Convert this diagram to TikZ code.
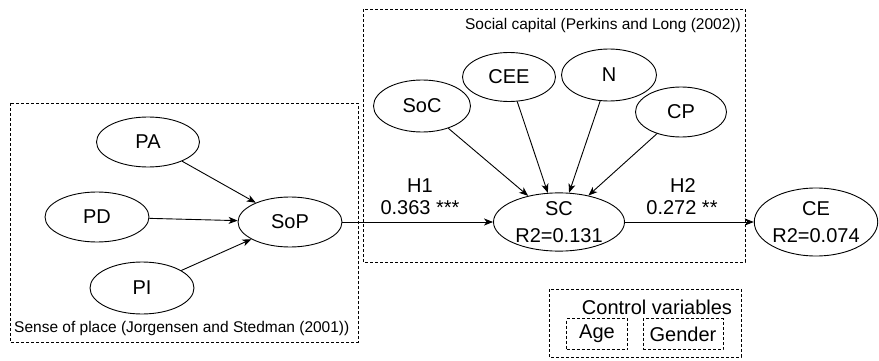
\documentclass[tikz,border=0pt]{standalone}
\usepackage{fontspec}
\setmainfont{Liberation Sans}
\usetikzlibrary{shapes.geometric,arrows.meta}
\begin{document}
\begin{tikzpicture}[x=1pt,y=-1pt,
  lat/.style={ellipse,draw,line width=0.9pt,inner sep=0pt,align=center,
              font=\fontsize{20}{27}\selectfont},
  grp/.style={draw,line width=0.8pt,dash pattern=on 3pt off 2pt},
  link/.style={draw,line width=0.9pt,-{Stealth[length=9pt,width=7pt,inset=2.5pt]}},
  lbl/.style={font=\fontsize{15.5}{17}\selectfont,inner sep=0pt},
  coef/.style={font=\fontsize{20}{22}\selectfont,inner sep=0pt}]
\useasboundingbox (0,0) rectangle (879,361);

% group frames
\draw[grp] (10,103) rectangle (358,342);
\draw[grp] (363,9) rectangle (745,262);
\draw[grp] (549,289) rectangle (741,357);

\node[lbl,anchor=west] (soplbl) at (14,328) {Sense of place (Jorgensen and Stedman (2001))};
\node[lbl,anchor=east] (sclbl) at (741,25) {Social capital (Perkins and Long (2002))};

% sense of place constructs
\node[lat,minimum width=103pt,minimum height=50pt] (PA) at (148,142) {PA};
\node[lat,minimum width=104pt,minimum height=50pt] (PD) at (97,217) {PD};
\node[lat,minimum width=104pt,minimum height=52pt] (PI) at (142,288) {PI};
\node[lat,minimum width=104pt,minimum height=50pt] (SoP) at (290,222) {SoP};

% social capital constructs
\node[lat,minimum width=97pt,minimum height=52pt] (SoC) at (422,106) {SoC};
\node[lat,minimum width=93pt,minimum height=49pt] (CEE) at (509,77) {CEE};
\node[lat,minimum width=95pt,minimum height=52pt] (N) at (609,75) {N};
\node[lat,minimum width=91pt,minimum height=50pt] (CP) at (681,112) {CP};
\node[lat,minimum width=131pt,minimum height=57pt] (SC) at (559,222) {SC\\R2=0.131};

% outcome
\node[lat,minimum width=122pt,minimum height=68pt] (CE) at (816,222) {CE\\R2=0.074};

% path coefficients
\node[coef] (h1) at (420,186) {H1};
\node[coef] (b1) at (420,208) {0.363 ***};
\node[coef] (h2) at (683,186) {H2};
\node[coef] (b2) at (682,208) {0.272 **};

% control variables
\node[coef] (ctl) at (657,307) {Control variables};
\node[grp,coef,minimum width=61pt,minimum height=31pt] (age) at (597,334) {Age};
\node[grp,coef,minimum width=80pt,minimum height=31pt] (gender) at (683,334) {Gender};

% structural paths
\draw[link] (PA) -- (SoP);
\draw[link] (PD) -- (SoP);
\draw[link] (PI) -- (SoP);
\draw[link] (SoP) -- (SC);
\draw[link] (SoC) -- (SC);
\draw[link] (CEE) -- (SC.111);
\draw[link] (N) -- (SC.71);
\draw[link] (CP) -- (SC);
\draw[link] (SC) -- (CE);
\end{tikzpicture}
\end{document}
